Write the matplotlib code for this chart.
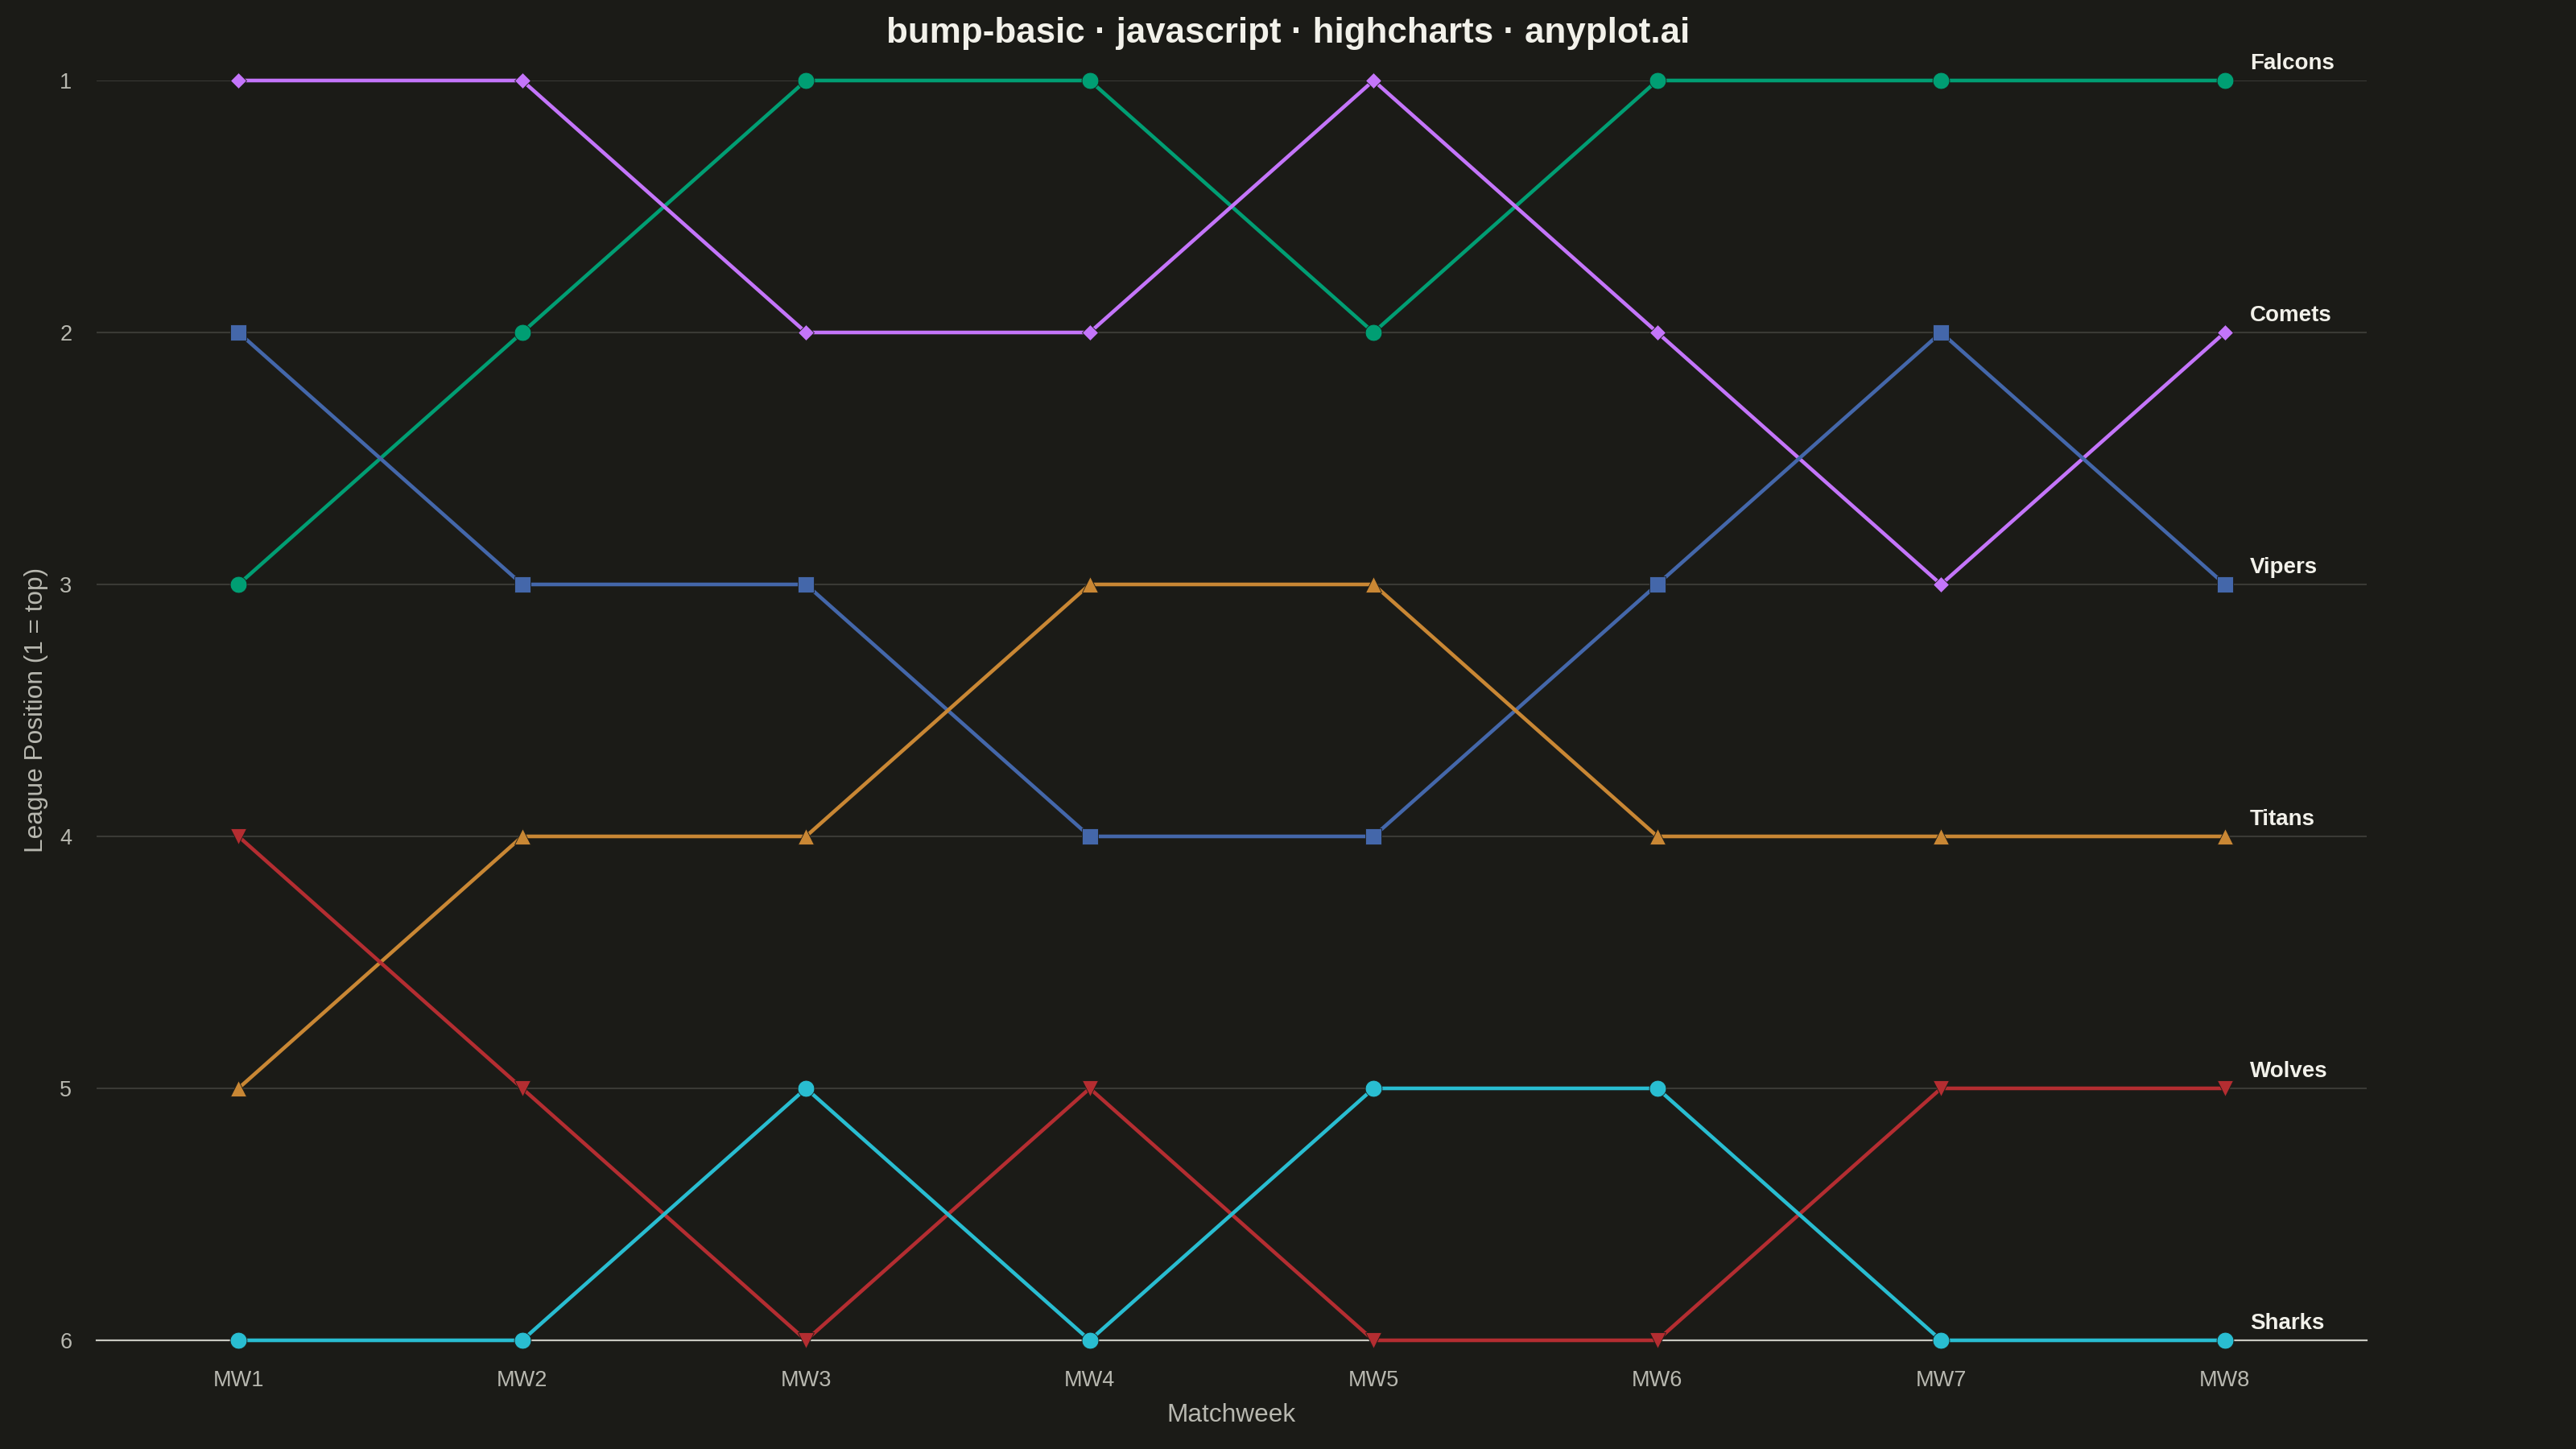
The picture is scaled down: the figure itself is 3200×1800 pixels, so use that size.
"""Bump chart of league positions per matchweek (dark theme)."""

import matplotlib
matplotlib.use("Agg")
import matplotlib.pyplot as plt

# --- data -------------------------------------------------------------------
matchweeks = ["MW1", "MW2", "MW3", "MW4", "MW5", "MW6", "MW7", "MW8"]
teams = ["Falcons", "Comets", "Vipers", "Titans", "Wolves", "Sharks"]

falcons = [3, 2, 1, 1, 2, 1, 1, 1]
comets = [1, 1, 2, 2, 1, 2, 3, 2]
vipers = [2, 3, 3, 4, 4, 3, 2, 3]
titans = [5, 4, 4, 3, 3, 4, 4, 4]
wolves = [4, 5, 6, 5, 6, 6, 5, 5]
sharks = [6, 6, 5, 6, 5, 5, 6, 6]

positions = [1, 2, 3, 4, 5, 6]

# --- style ------------------------------------------------------------------
BG = "#1b1b17"
GRID = "#3a3a35"
AXIS = "#c8c8c0"
TICK = "#b8b8b0"
TEXT = "#f2f1ea"

styles = {
    "Falcons": dict(color="#009e73", marker="o", ms=15),
    "Comets": dict(color="#c475fa", marker="D", ms=10),
    "Vipers": dict(color="#4467aa", marker="s", ms=14),
    "Titans": dict(color="#c98734", marker="^", ms=14),
    "Wolves": dict(color="#b42d31", marker="v", ms=14),
    "Sharks": dict(color="#29bdd1", marker="o", ms=15),
}

plt.rcParams["font.family"] = ["Liberation Sans", "DejaVu Sans"]

fig = plt.figure(figsize=(32, 18), dpi=100, facecolor=BG)
ax = fig.add_axes([0.0375, 0.075, 0.88125, 0.86944])
ax.set_facecolor(BG)

series = [falcons, comets, vipers, titans, wolves, sharks]
x = list(range(len(matchweeks)))

for i, (team, ranks) in enumerate(zip(teams, series)):
    st = styles[team]
    ax.plot(
        x,
        ranks,
        color=st["color"],
        linewidth=3.3,
        marker=st["marker"],
        markersize=st["ms"],
        markerfacecolor=st["color"],
        markeredgecolor=BG,
        markeredgewidth=0.6,
        clip_on=False,
        zorder=3 + i,
    )
    # team name at the end of each line
    ax.annotate(
        team,
        xy=(x[-1], ranks[-1]),
        xytext=(22.5, 10),
        textcoords="offset points",
        ha="left",
        va="baseline",
        fontsize=20,
        fontweight="bold",
        color=TEXT,
        annotation_clip=False,
    )

ax.set_xlim(-0.5, len(matchweeks) - 0.5)
ax.set_ylim(6, 1)
ax.set_xticks(x)
ax.set_xticklabels(matchweeks)
ax.set_yticks(positions)

# grid lines (rank 6 acts as the axis line)
for p in positions[:-1]:
    ax.axhline(p, color=GRID, linewidth=1.5, zorder=1)
ax.axhline(positions[-1], color=AXIS, linewidth=1.6, zorder=1, clip_on=False)

for side in ["top", "right", "left", "bottom"]:
    ax.spines[side].set_visible(False)

ax.tick_params(axis="x", length=0, pad=27, labelsize=19.5, labelcolor=TICK)
ax.tick_params(axis="y", length=0, pad=22, labelsize=19.5, labelcolor=TICK)

fig.text(
    0.478, 0.0236, "Matchweek",
    ha="center", va="center", fontsize=22.8, color=TICK,
)
fig.text(
    0.0141, 0.51, "League Position (1 = top)",
    ha="center", va="center", rotation=90, fontsize=22.8, color=TICK,
)
fig.text(
    0.5, 0.9767, "bump-basic · javascript · highcharts · anyplot.ai",
    ha="center", va="center", fontsize=31.6, fontweight="bold", color=TEXT,
)

fig.savefig("out.png", dpi=100, facecolor=BG)
